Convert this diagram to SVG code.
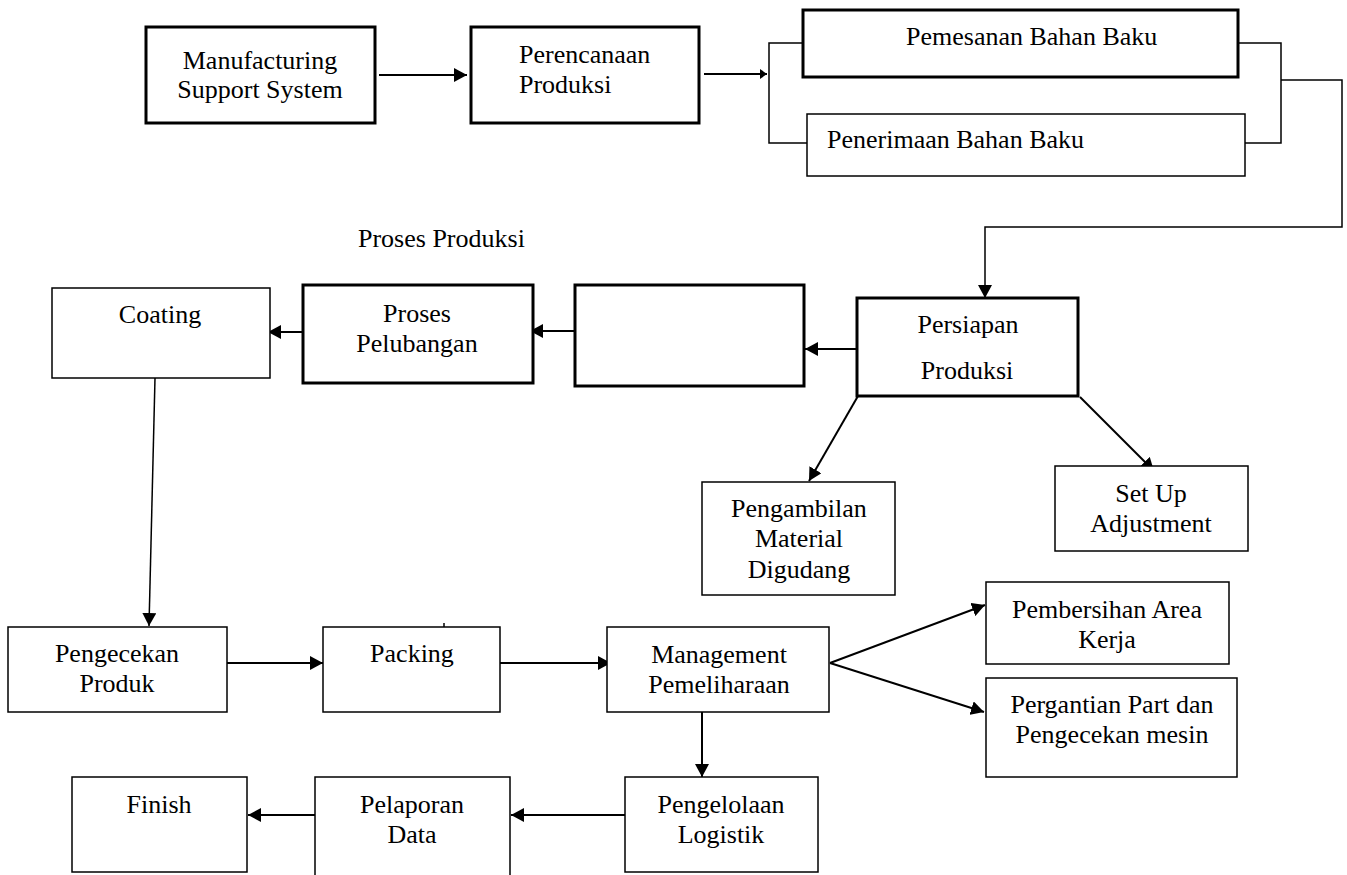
<svg xmlns="http://www.w3.org/2000/svg" width="1347" height="875" viewBox="0 0 1347 875">
<style>
.bg{fill:#fff}
.thick{fill:#fff;stroke:#000;stroke-width:3}
.thin{fill:#fff;stroke:#000;stroke-width:1.5}
.c{fill:none;stroke:#000;stroke-width:2}
.cl{fill:none;stroke:#000;stroke-width:1.5}
text{font-family:"Liberation Serif","Times New Roman",serif;font-size:26px;fill:#000}
.m{text-anchor:middle}
</style>
<defs>
<marker id="ah" markerUnits="userSpaceOnUse" markerWidth="14" markerHeight="14" refX="13" refY="7" orient="auto"><path d="M0,0 L13,7 L0,14 z" fill="#000"/></marker>
<marker id="ahs" markerUnits="userSpaceOnUse" markerWidth="8" markerHeight="10" refX="7" refY="5" orient="auto"><path d="M0,0 L7,5 L0,10 z" fill="#000"/></marker>
</defs>
<rect class="bg" x="0" y="0" width="1347" height="875"/>
<g id="connectors">
<line class="c" x1="379" y1="75" x2="467" y2="75" marker-end="url(#ah)"/>
<line class="c" x1="704" y1="74" x2="767" y2="74" marker-end="url(#ahs)"/>
<polyline class="cl" points="803,43 769,43 769,143 807,143"/>
<polyline class="cl" points="1238,43 1281,43 1281,143 1245,143"/>
<polyline class="cl" points="1281,80 1342,80 1342,227 985,227 985,298" marker-end="url(#ah)"/>
<line class="c" x1="857" y1="349" x2="805" y2="349" marker-end="url(#ah)"/>
<line class="c" x1="575" y1="331" x2="530" y2="331" marker-end="url(#ah)"/>
<line class="c" x1="303" y1="332" x2="268" y2="332" marker-end="url(#ah)"/>
<line class="cl" x1="155" y1="378" x2="149" y2="626" marker-end="url(#ah)"/>
<line class="c" x1="227" y1="663" x2="323" y2="663" marker-end="url(#ah)"/>
<line class="c" x1="500" y1="663" x2="611" y2="663" marker-end="url(#ah)"/>
<line class="c" x1="702" y1="712" x2="702" y2="777" marker-end="url(#ah)"/>
<line class="c" x1="830" y1="663" x2="985" y2="605" marker-end="url(#ah)"/>
<line class="c" x1="830" y1="663" x2="984" y2="712" marker-end="url(#ah)"/>
<line class="c" x1="858" y1="396" x2="809" y2="481" marker-end="url(#ah)"/>
<line class="c" x1="1080" y1="397" x2="1154" y2="471" marker-end="url(#ah)"/>
<line class="c" x1="625" y1="815" x2="511" y2="815" marker-end="url(#ah)"/>
<line class="c" x1="315" y1="815" x2="248" y2="815" marker-end="url(#ah)"/>
<line class="cl" x1="444" y1="623" x2="444" y2="627"/>
</g>
<g id="n-manufacturing"><rect class="thick" x="146" y="27" width="229" height="96"/><text class="m" x="260" y="69">Manufacturing</text><text class="m" x="260" y="98">Support System</text></g>
<g id="n-perencanaan"><rect class="thick" x="471" y="27" width="228" height="96"/><text x="519" y="63">Perencanaan</text><text x="519" y="93">Produksi</text></g>
<g id="n-pemesanan"><rect class="thick" x="803" y="10" width="435" height="67"/><text x="906" y="45">Pemesanan Bahan Baku</text></g>
<g id="n-penerimaan"><rect class="thin" x="807" y="114" width="438" height="62"/><text x="827" y="148">Penerimaan Bahan Baku</text></g>
<text id="label-proses-produksi" x="358" y="247">Proses Produksi</text>
<g id="n-coating"><rect class="thin" x="52" y="288" width="218" height="90"/><text class="m" x="160" y="323">Coating</text></g>
<g id="n-pelubangan"><rect class="thick" x="303" y="285" width="230" height="98"/><text class="m" x="417" y="322">Proses</text><text class="m" x="417" y="352">Pelubangan</text></g>
<g id="n-blank"><rect class="thick" x="575" y="285" width="229" height="101"/></g>
<g id="n-persiapan"><rect class="thick" x="857" y="298" width="221" height="98"/><text class="m" x="968" y="333">Persiapan</text><text class="m" x="967" y="379">Produksi</text></g>
<g id="n-pengambilan"><rect class="thin" x="702" y="482" width="193" height="113"/><text class="m" x="799" y="517">Pengambilan</text><text class="m" x="799" y="547">Material</text><text class="m" x="799" y="578">Digudang</text></g>
<g id="n-setup"><rect class="thin" x="1055" y="466" width="193" height="85"/><text class="m" x="1151" y="502">Set Up</text><text class="m" x="1151" y="532">Adjustment</text></g>
<g id="n-pengecekan"><rect class="thin" x="8" y="627" width="219" height="85"/><text class="m" x="117" y="662">Pengecekan</text><text class="m" x="117" y="692">Produk</text></g>
<g id="n-packing"><rect class="thin" x="323" y="627" width="177" height="85"/><text class="m" x="412" y="662">Packing</text></g>
<g id="n-management"><rect class="thin" x="607" y="627" width="222" height="85"/><text class="m" x="719" y="663">Management</text><text class="m" x="719" y="693">Pemeliharaan</text></g>
<g id="n-pembersihan"><rect class="thin" x="986" y="582" width="243" height="82"/><text class="m" x="1107" y="618">Pembersihan Area</text><text class="m" x="1107" y="648">Kerja</text></g>
<g id="n-pergantian"><rect class="thin" x="986" y="678" width="251" height="99"/><text class="m" x="1112" y="713">Pergantian Part dan</text><text class="m" x="1112" y="743">Pengecekan mesin</text></g>
<g id="n-pengelolaan"><rect class="thin" x="625" y="777" width="193" height="95"/><text class="m" x="721" y="813">Pengelolaan</text><text class="m" x="721" y="843">Logistik</text></g>
<g id="n-pelaporan"><rect class="thin" x="315" y="777" width="195" height="110"/><text class="m" x="412" y="813">Pelaporan</text><text class="m" x="412" y="843">Data</text></g>
<g id="n-finish"><rect class="thin" x="72" y="777" width="175" height="95"/><text class="m" x="159" y="813">Finish</text></g>
</svg>
